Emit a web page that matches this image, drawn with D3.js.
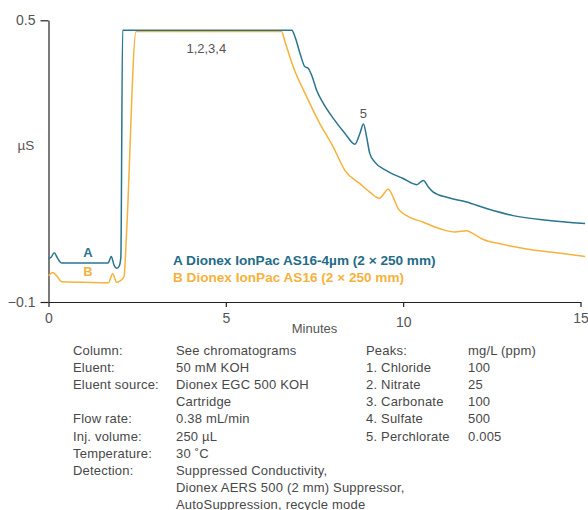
<!DOCTYPE html>
<html>
<head>
<meta charset="utf-8">
<script src="https://cdn.jsdelivr.net/npm/d3@7"></script>
<style>
  body { margin: 0; background: #fff; }
  text { font-family: "Liberation Sans", Arial, sans-serif; }
</style>
</head>
<body>
<div id="plot"></div>
<script>
// chromatogram A (AS16-4um), minutes / uS
var timeA = [0, 0.08, 0.16, 0.25, 0.37, 1.0, 1.68, 1.77, 1.85, 1.92, 1.99, 2.04, 2.09, 6.86, 6.95, 7.09, 7.23, 7.32, 7.42, 7.56, 7.75, 8.03, 8.36, 8.64, 8.78, 8.88, 8.97, 9.06, 9.20, 9.53, 10.0, 10.38, 10.57, 10.71, 10.85, 11.23, 11.79, 12.35, 13.10, 14.05, 15.13];
var signalA = [-0.008, -0.004, 0.005, -0.006, -0.017, -0.017, -0.017, -0.003, -0.022, -0.028, -0.024, -0.005, 0.479, 0.479, 0.465, 0.430, 0.401, 0.398, 0.383, 0.351, 0.323, 0.291, 0.259, 0.236, 0.259, 0.279, 0.251, 0.216, 0.198, 0.180, 0.163, 0.150, 0.159, 0.145, 0.134, 0.123, 0.113, 0.099, 0.084, 0.074, 0.067];

// chromatogram B (AS16)
var timeB = [0, 0.12, 0.23, 0.37, 1.0, 1.69, 1.81, 1.92, 2.02, 2.13, 2.20, 2.47, 6.57, 6.67, 6.90, 7.28, 7.65, 8.03, 8.36, 8.78, 9.06, 9.33, 9.58, 9.72, 9.86, 10.10, 10.57, 11.04, 11.46, 11.79, 11.98, 12.26, 12.73, 13.48, 14.33, 15.13];
var signalB = [-0.044, -0.037, -0.044, -0.057, -0.058, -0.059, -0.040, -0.058, -0.055, -0.046, 0.046, 0.476, 0.476, 0.454, 0.401, 0.337, 0.280, 0.230, 0.180, 0.152, 0.134, 0.121, 0.140, 0.123, 0.099, 0.084, 0.070, 0.056, 0.049, 0.052, 0.045, 0.033, 0.024, 0.013, 0.005, -0.003];

var xTicks = [0, 5, 10, 15];
var yTicks = [-0.1, 0.5];

// peak labels: text, minutes, uS
var peakLabels = ["1,2,3,4", "5"];
var peakTimes = [4.45, 8.88];
var peakLevels = [0.430, 0.292];

var legendNames = ["A Dionex IonPac AS16-4µm (2 × 250 mm)", "B Dionex IonPac AS16 (2 × 250 mm)"];

var condLabels = ["Column:", "Eluent:", "Eluent source:", "", "Flow rate:", "Inj. volume:", "Temperature:", "Detection:", "", ""];
var condValues = ["See chromatograms", "50 mM KOH", "Dionex EGC 500 KOH", "Cartridge", "0.38 mL/min", "250 µL", "30 ˚C", "Suppressed Conductivity,", "Dionex AERS 500 (2 mm) Suppressor,", "AutoSuppression, recycle mode"];
var peakNames = ["Peaks:", "1. Chloride", "2. Nitrate", "3. Carbonate", "4. Sulfate", "5. Perchlorate"];
var peakAmounts = ["mg/L (ppm)", "100", "25", "100", "500", "0.005"];

var colorA = "#2a7490", colorB = "#f6b23c";

var width = 588, height = 510;

var svg = d3.select("#plot")
  .append("svg")
  .attr("width", width)
  .attr("height", height);

var x = d3.scaleLinear().domain([0, 15]).range([48.5, 580.5]);
var y = d3.scaleLinear().domain([-0.1, 0.5]).range([302, 20.3]);

// axes
var xAxis = svg.append("g")
  .attr("transform", "translate(0,302)")
  .call(d3.axisBottom(x).tickValues(xTicks).tickSize(5).tickSizeOuter(0).tickPadding(6).tickFormat(d3.format("d")));
xAxis.selectAll("text")
  .attr("dy", function (d) { return d === 10 ? "1.0em" : "0.71em"; });

var yAxis = svg.append("g")
  .attr("transform", "translate(48.5,0)")
  .call(d3.axisLeft(y).tickValues(yTicks).tickSize(8).tickSizeOuter(0).tickPadding(5).tickFormat(d3.format(".1f")));

svg.selectAll(".domain, .tick line").attr("stroke", "#222").attr("stroke-width", 1.2);
svg.selectAll(".tick text")
  .style("font-size", "14px")
  .style("font-family", "Liberation Sans, Arial, sans-serif")
  .attr("fill", "#555");

svg.append("text")
  .attr("x", 26).attr("y", 150)
  .attr("text-anchor", "middle")
  .style("font-size", "13.5px")
  .attr("fill", "#555")
  .text("µS");

svg.append("text")
  .attr("x", x(7.5)).attr("y", 333)
  .attr("text-anchor", "middle")
  .style("font-size", "13px")
  .attr("fill", "#555")
  .text("Minutes");

// traces
var line = d3.line()
  .x(function (d) { return x(d[0]); })
  .y(function (d) { return y(d[1]); })
  .curve(d3.curveMonotoneX);

var traceB = d3.zip(timeB, signalB);
var traceA = d3.zip(timeA, signalA);

svg.append("path")
  .datum(traceB)
  .attr("d", line)
  .attr("fill", "none")
  .attr("stroke", colorB)
  .attr("stroke-width", 1.5);

svg.append("path")
  .datum(traceA)
  .attr("d", line)
  .attr("fill", "none")
  .attr("stroke", colorA)
  .attr("stroke-width", 1.5);

// peak annotations
svg.selectAll(".peak")
  .data(peakLabels)
  .join("text")
  .attr("class", "peak")
  .attr("x", function (d, i) { return x(peakTimes[i]); })
  .attr("y", function (d, i) { return y(peakLevels[i]); })
  .attr("text-anchor", "middle")
  .style("font-size", "13px")
  .attr("fill", "#555")
  .text(function (d) { return d; });

// trace letters
svg.append("text").attr("x", 88).attr("y", 257).attr("text-anchor", "middle")
  .style("font-size", "13px").style("font-weight", "bold").attr("fill", colorA).text("A");
svg.append("text").attr("x", 88).attr("y", 276).attr("text-anchor", "middle")
  .style("font-size", "13px").style("font-weight", "bold").attr("fill", colorB).text("B");

// legend
svg.selectAll(".legend")
  .data(legendNames)
  .join("text")
  .attr("class", "legend")
  .attr("x", 173)
  .attr("y", function (d, i) { return 265 + i * 16.5; })
  .style("font-size", "13.6px")
  .style("font-weight", "bold")
  .attr("fill", function (d, i) { return i === 0 ? "#1f6c88" : colorB; })
  .text(function (d) { return d; });

// conditions table
var rowY = function (i) { return 355 + i * 17.1; };
var cols = [
  { x: 73, vals: condLabels },
  { x: 176, vals: condValues },
  { x: 366, vals: peakNames },
  { x: 468, vals: peakAmounts }
];
cols.forEach(function (c) {
  svg.append("g").selectAll("text")
    .data(c.vals)
    .join("text")
    .attr("x", c.x)
    .attr("y", function (d, i) { return rowY(i); })
    .style("font-size", "13px")
    .style("letter-spacing", "0.2px")
    .attr("fill", "#484848")
    .text(function (d) { return d; });
});
</script>
</body>
</html>
